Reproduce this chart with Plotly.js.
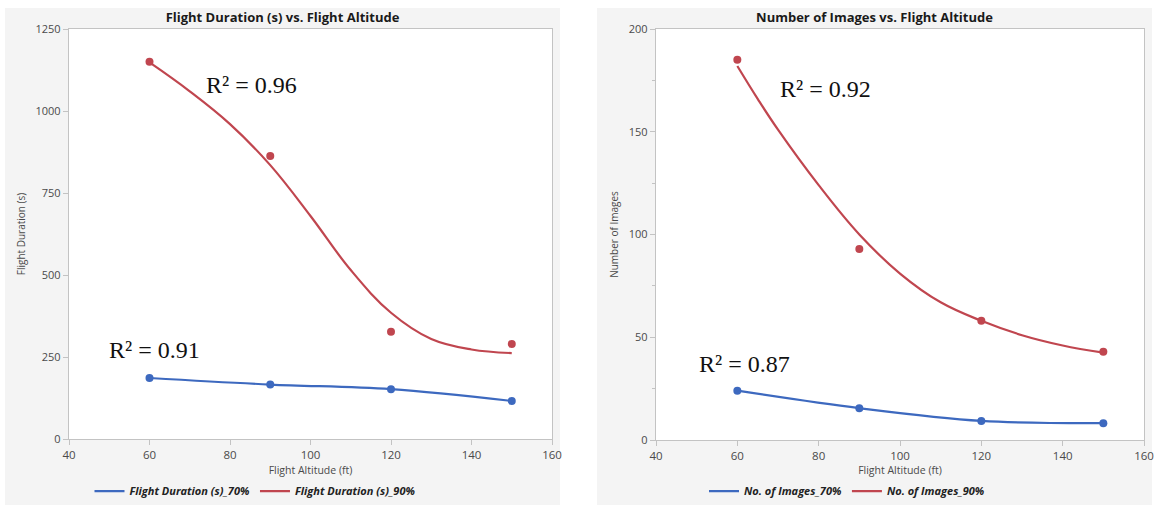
<!DOCTYPE html>
<html>
<head>
<meta charset="utf-8">
<script src="https://cdn.plot.ly/plotly-3.0.1.min.js"></script>
<style>
  html, body { margin: 0; padding: 0; background: #ffffff; }
  #wrap { position: relative; width: 1156px; height: 505px; background: #ffffff; overflow: hidden; }
  .panel { position: absolute; top: 8px; height: 497px; background: #f4f4f4; }
  #lp { left: 5px; width: 555px; }
  #rp { left: 597px; width: 555px; }
  #left { position: absolute; left: 5px; top: 8px; width: 567px; height: 497px; }
  #right { position: absolute; left: 597px; top: 8px; width: 559px; height: 497px; }
</style>
</head>
<body>
<div id="wrap">
  <div class="panel" id="lp"></div><div class="panel" id="rp"></div>
  <div id="left"></div><div id="right"></div>
</div>
<script>
// ---- data ----
const altitude = [60, 90, 120, 150];
const xTicks = [40, 60, 80, 100, 120, 140, 160];

const duration70 = [186, 166, 152, 116];
const duration90 = [1150, 863, 327, 290];
// fitted curve for 90 %
const durationFitX = [60, 70, 80, 90, 100, 110, 120, 130, 140, 150];
const durationFit90 = [1148, 1060, 960, 835, 680, 515, 385, 305, 273, 262];

const images70 = [24, 15.5, 9.3, 8.2];
const images90 = [185, 93, 58, 43];
const imagesFitX = [60, 65, 70, 80, 90, 100, 110, 120, 130, 140, 150];
const imagesFit90 = [182, 166, 151, 124, 100, 81, 67, 58, 51, 46, 42.5];

const leftTitle = "Flight Duration (s) vs. Flight Altitude";
const rightTitle = "Number of Images vs. Flight Altitude";
const xTitle = "Flight Altitude (ft)";
const leftYTitle = "Flight Duration (s)";
const rightYTitle = "Number of Images";
const leftNames = ["Flight Duration (s)_70%", "Flight Duration (s)_90%"];
const rightNames = ["No. of Images_70%", "No. of Images_90%"];
const leftR2 = [{x: 73.5, y: 1080, t: "0.96"}, {x: 49.5, y: 272, t: "0.91"}];
const rightR2 = [{x: 70, y: 171, t: "0.92"}, {x: 50, y: 37, t: "0.87"}];

// ---- styles ----
const BLUE = "#3d69bf";
const RED = "#c0464f";
const AXIS = "#c3c3c3";
const TXT = "#4a4a4a";
const FONT = "Open Sans, DejaVu Sans, sans-serif";

function buildTraces(a70, a90, fitX, fit90, names) {
  return [
    {x: altitude, y: a70, mode: "lines", line: {color: BLUE, width: 2.2, shape: "spline"},
     name: names[0], showlegend: true, hoverinfo: "skip"},
    {x: fitX, y: fit90, mode: "lines", line: {color: RED, width: 2.2, shape: "spline", smoothing: 1.1},
     name: names[1], showlegend: true, hoverinfo: "skip"},
    {x: altitude, y: a70, mode: "markers", marker: {color: BLUE, size: 8},
     showlegend: false},
    {x: altitude, y: a90, mode: "markers", marker: {color: RED, size: 8},
     showlegend: false}
  ];
}

function buildLayout(width, title, yTitle, yRange, yDtick, yMinor, r2, margin, titleX, legendX) {
  return {
    width: width, height: 497,
    paper_bgcolor: "rgba(0,0,0,0)", plot_bgcolor: "#ffffff",
    margin: margin,
    showlegend: true,
    font: {family: FONT, color: TXT, size: 11},
    title: {text: title, xref: "container", x: titleX, xanchor: "center",
            yref: "container", y: 0.982, yanchor: "middle",
            font: {family: FONT, size: 13, color: "#1a1a1a", weight: "bold"}},
    xaxis: {range: [40, 160], tickmode: "array", tickvals: xTicks, ticktext: xTicks.map(String),
            showgrid: false, zeroline: false, ticklabeloverflow: "allow", automargin: false,
            showline: true, mirror: true, linecolor: AXIS, linewidth: 1.2,
            ticks: "outside", ticklen: 5, tickcolor: AXIS,
            tickfont: {family: FONT, size: 11.5, color: TXT},
            title: {text: xTitle, standoff: 6, font: {family: FONT, size: 10.5, color: TXT}}},
    yaxis: {range: yRange, dtick: yDtick, tick0: 0, showgrid: false, zeroline: false,
            showline: true, mirror: true, linecolor: AXIS, linewidth: 1.2, automargin: false,
            ticks: "outside", ticklen: 5, tickcolor: AXIS, ticklabeloverflow: "allow",
            minor: yMinor,
            tickfont: {family: FONT, size: 11, color: TXT},
            title: {text: yTitle, standoff: 8, font: {family: FONT, size: 10, color: TXT}}},
    legend: {orientation: "h", xref: "container", x: legendX, xanchor: "center",
             yref: "container", y: 0.028, yanchor: "middle",
             bgcolor: "rgba(0,0,0,0)", itemwidth: 30, tracegroupgap: 0,
             font: {family: FONT, size: 11, color: "#222222", weight: "bold", style: "italic"}},
    annotations: r2.map(a => ({x: a.x, y: a.y, xref: "x", yref: "y", xanchor: "left", yanchor: "middle",
      showarrow: false, text: "R\u00B2 = " + a.t,
      font: {family: "Liberation Serif, Times New Roman, serif", size: 24, color: "#111111"}}))
  };
}

Plotly.newPlot("left",
  buildTraces(duration70, duration90, durationFitX, durationFit90, leftNames),
  buildLayout(567, leftTitle, leftYTitle, [0, 1250], 250, {ticks: ""}, leftR2,
              {l: 64, r: 20, t: 21, b: 66}, 277.5 / 567, 250 / 567),
  {staticPlot: true, displayModeBar: false});

Plotly.newPlot("right",
  buildTraces(images70, images90, imagesFitX, imagesFit90, rightNames),
  buildLayout(559, rightTitle, rightYTitle, [0, 200], 50,
              {ticks: "outside", ticklen: 3, tickcolor: AXIS, dtick: 25, showgrid: false},
              rightR2, {l: 59, r: 12, t: 21, b: 65}, 277.5 / 559, 250 / 559),
  {staticPlot: true, displayModeBar: false});
</script>
</body>
</html>
